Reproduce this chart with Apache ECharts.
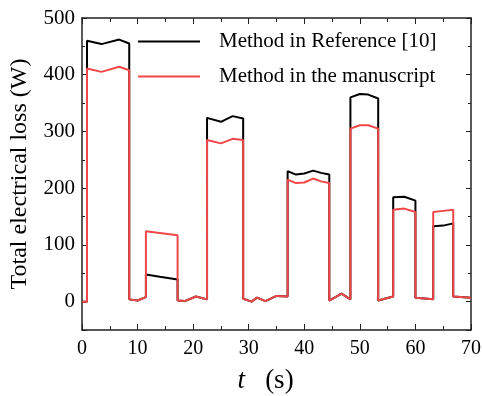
<!DOCTYPE html>
<html>
<head>
<meta charset="utf-8">
<script src="https://cdn.jsdelivr.net/npm/echarts@6/dist/echarts.min.js"></script>
<style>
  html, body { margin: 0; padding: 0; background: #fff; }
  #chart { width: 482px; height: 396px; }
</style>
</head>
<body>
<div id="chart"></div>
<script>
// time points (s), shared by both curves
const timeS = [0, 0.9, 0.9, 3.5, 6.7, 8.5, 8.5, 10, 11.5, 11.5, 14, 17.2, 17.2, 18.5, 20.5, 22.5,
  22.5, 25, 27.1, 29, 29, 30.5, 31.5, 33, 35, 37, 37, 38.5, 40, 41.6, 43, 44.5, 44.5, 46.7, 48.3,
  48.3, 50, 51.5, 53.3, 53.3, 56, 56, 58, 60, 60, 63.2, 63.2, 65, 66.8, 66.8, 70];
// total electrical loss (W)
const lossReference = [0, 0, 460, 454, 462, 455, 4, 2, 8, 48, 44, 39, 2, 1, 9, 4,
  324, 317, 327, 323, 5, 0, 7, 1, 10, 9, 230, 224, 226, 231, 227, 224, 2, 14, 4,
  360, 366, 365, 358, 2, 9, 184, 185, 178, 7, 4, 133, 134, 138, 9, 7];
const lossManuscript = [0, 0, 411, 405, 414, 408, 4, 2, 8, 124, 121, 117, 2, 1, 9, 4,
  285, 279, 287, 285, 5, 0, 7, 1, 10, 9, 215, 209, 210, 217, 212, 209, 2, 14, 4,
  305, 311, 311, 305, 2, 9, 162, 164, 158, 7, 4, 158, 160, 162, 9, 7];
const seriesNames = ["Method in Reference [10]", "Method in the manuscript"];
const yLabels = [0, 100, 200, 300, 400, 500];

const font = "'Liberation Serif', 'Times New Roman', serif";
const axisColor = "#222";

const chart = echarts.init(document.getElementById("chart"));

// two grids on the same rectangle: bottom/left axes in one, top/right in the other
const gridRect = { left: 82, right: 11, top: 18, bottom: 66, containLabel: false, outerBoundsMode: "none" };

const xBase = (pos, grid) => ({
  type: "value",
  gridIndex: grid,
  position: pos,
  min: 0,
  max: 70,
  interval: 10,
  axisLine: { show: true, onZero: false, lineStyle: { color: axisColor, width: 1.5 } },
  axisTick: { show: true, inside: true, length: 6, lineStyle: { color: axisColor, width: 1 } },
  minorTick: { show: true, splitNumber: 2, length: 4, lineStyle: { color: axisColor, width: 1 } },
  splitLine: { show: false },
  axisLabel: { show: false },
});

// short ticks every 50 W on the real scale
const yMinor = (pos, grid) => ({
  type: "value",
  gridIndex: grid,
  position: pos,
  min: -50,
  max: 500,
  interval: 50,
  axisLine: { show: true, onZero: false, lineStyle: { color: axisColor, width: 1.5 } },
  axisTick: { show: true, inside: true, length: 3, lineStyle: { color: axisColor, width: 1 } },
  splitLine: { show: false },
  axisLabel: { show: false },
});

// longer ticks every 100 W: an inverted 0..550 axis puts its ticks at 500, 400, ... 0
const yMajor = (pos, grid) => ({
  type: "value",
  gridIndex: grid,
  position: pos,
  inverse: true,
  min: 0,
  max: 550,
  interval: 100,
  axisLine: { show: false, onZero: false },
  axisTick: { show: true, inside: true, length: 5, lineStyle: { color: axisColor, width: 1 } },
  splitLine: { show: false },
  axisLabel: { show: false },
});

const bottomX = xBase("bottom", 0);
bottomX.axisLabel = { show: true, margin: 9, color: "#000", fontFamily: font, fontSize: 20 };
bottomX.name = "{i|t}   (s)";
bottomX.nameLocation = "middle";
bottomX.nameGap = 37;
bottomX.nameTextStyle = {
  color: "#000", fontFamily: font, fontSize: 27, padding: [0, 22, 0, 0],
  rich: { i: { fontStyle: "italic", fontFamily: font, fontSize: 27, color: "#000" } },
};

const leftY = yMinor("left", 0);
leftY.axisLabel = {
  show: true, margin: 7, color: "#000", fontFamily: font, fontSize: 21,
  customValues: yLabels,
};
leftY.name = "Total electrical loss (W)";
leftY.nameLocation = "middle";
leftY.nameGap = 50;
leftY.nameTextStyle = { color: "#000", fontFamily: font, fontSize: 24 };

const option = {
  animation: false,
  backgroundColor: "#fff",
  grid: [gridRect, Object.assign({}, gridRect)],
  legend: {
    orient: "vertical",
    left: 137,
    top: 31,
    padding: 0,
    itemWidth: 62,
    itemHeight: 14,
    itemGap: 14,
    data: seriesNames,
    itemStyle: { opacity: 0 },
    textStyle: { color: "#000", fontFamily: font, fontSize: 21, lineHeight: 21, padding: [0, 0, 0, 14] },
  },
  xAxis: [bottomX, xBase("top", 1)],
  yAxis: [leftY, yMajor("left", 0), yMinor("right", 1), yMajor("right", 1)],
  series: [
    {
      name: seriesNames[0],
      type: "line",
      xAxisIndex: 0,
      yAxisIndex: 0,
      symbol: "none",
      color: "#000",
      lineStyle: { color: "#000", width: 2 },
      data: timeS.map((t, i) => [t, lossReference[i]]),
      z: 2,
    },
    {
      name: seriesNames[1],
      type: "line",
      xAxisIndex: 0,
      yAxisIndex: 0,
      symbol: "none",
      color: "#f04848",
      lineStyle: { color: "#f04848", width: 2 },
      data: timeS.map((t, i) => [t, lossManuscript[i]]),
      z: 3,
    },
  ],
};

chart.setOption(option);
</script>
</body>
</html>
